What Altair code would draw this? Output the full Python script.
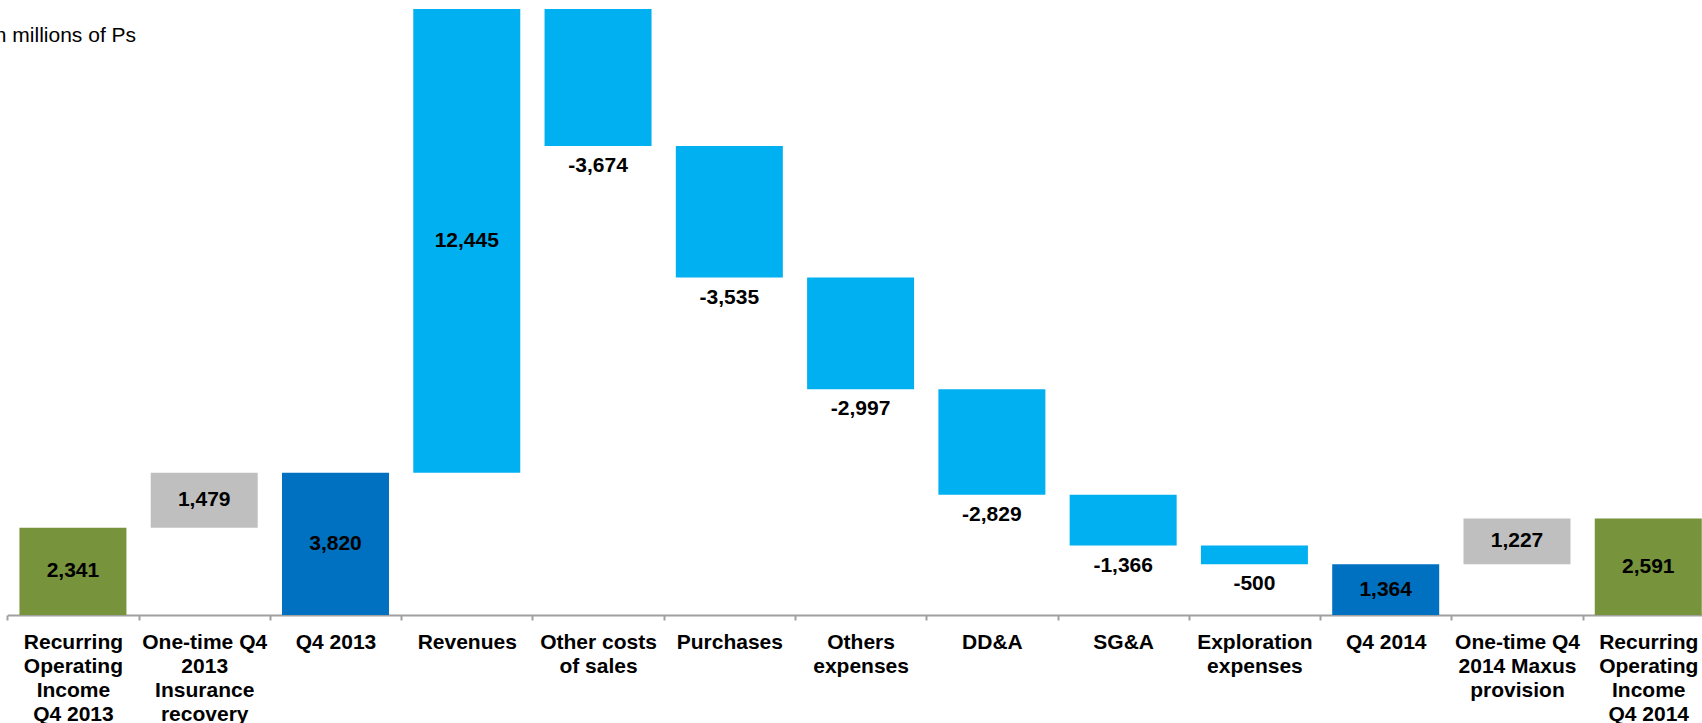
import altair as alt
import pandas as pd

# ---- data ----
categories = [
    "Recurring|Operating|Income|Q4 2013",
    "One-time Q4|2013|Insurance|recovery",
    "Q4 2013",
    "Revenues",
    "Other costs|of sales",
    "Purchases",
    "Others|expenses",
    "DD&A",
    "SG&A",
    "Exploration|expenses",
    "Q4 2014",
    "One-time Q4|2014 Maxus|provision",
    "Recurring|Operating|Income|Q4 2014",
]
values = [2341, 1479, 3820, 12445, -3674, -3535, -2997, -2829, -1366, -500, 1364, 1227, 2591]
kinds = ["recurring", "one_time", "quarter", "change", "change", "change", "change",
         "change", "change", "change", "quarter", "one_time", "recurring"]
kind_names = ["recurring", "one_time", "quarter", "change"]
kind_colors = ["#77933C", "#BFBFBF", "#0070C0", "#00B0F0"]
note_text = "In millions of Ps"

# ---- waterfall table ----
rows = []
level = 0
for c, v, k in zip(categories, values, kinds):
    if k in ("recurring", "quarter"):
        s, e = 0, v
    else:
        s, e = level, level + v
    level = e
    rows.append({
        "cat": c, "value": v, "kind": k, "start": s, "end": e,
        "mid": (s + e) / 2, "low": min(s, e),
        "label": f"{v:,}", "place": "below" if v < 0 else "inside",
    })
df = pd.DataFrame(rows)

FONT = "Liberation Sans"

x_enc = alt.X(
    "cat:N", sort=categories,
    scale=alt.Scale(range=[7.3, 1713.9], paddingInner=0, paddingOuter=0),
    axis=alt.Axis(
        title=None, labelAngle=0, tickBand="extent",
        labelExpr="split(datum.label, '|')",
        labelFont=FONT, labelFontSize=21, labelFontWeight="bold", labelColor="#000000",
        labelLineHeight=24, labelBaseline="top", labelAlign="center", labelPadding=11,
        labelLimit=300, labelOverlap=False,
        domainColor="#A0A0A0", domainWidth=2, tickColor="#A0A0A0", tickWidth=2, tickSize=5,
        grid=False,
    ),
)
y_scale = alt.Scale(domain=[0, 16507], nice=False, zero=True)

base = alt.Chart(df)

bars = base.mark_bar(width=alt.RelativeBandSize(0.815)).encode(
    x=x_enc,
    y=alt.Y("start:Q", scale=y_scale, axis=None),
    y2="end:Q",
    color=alt.Color("kind:N", scale=alt.Scale(domain=kind_names, range=kind_colors), legend=None),
)

inside = base.transform_filter(alt.datum.place == "inside").mark_text(
    font=FONT, fontSize=21, fontWeight="bold", color="#000000", baseline="middle", align="center"
).encode(x=alt.X("cat:N", sort=categories), y=alt.Y("mid:Q", scale=y_scale), text="label:N")

below = base.transform_filter(alt.datum.place == "below").mark_text(
    font=FONT, fontSize=21, fontWeight="bold", color="#000000", baseline="top", align="center", dy=9
).encode(x=alt.X("cat:N", sort=categories), y=alt.Y("low:Q", scale=y_scale), text="label:N")

note = alt.Chart(pd.DataFrame({"note": [note_text]})).mark_text(
    font=FONT, fontSize=21, color="#000000", align="left", baseline="alphabetic"
).encode(x=alt.value(-11), y=alt.value(42), text="note:N")

chart = alt.layer(bars, inside, below, note).properties(
    width=1702, height=615,
    autosize=alt.AutoSizeParams(type="none"),
    padding={"left": 0, "right": 0, "top": 0, "bottom": 108},
    background="white",
).configure_view(stroke=None)

chart.save("out.html", embed_options={"renderer": "svg", "actions": False})
